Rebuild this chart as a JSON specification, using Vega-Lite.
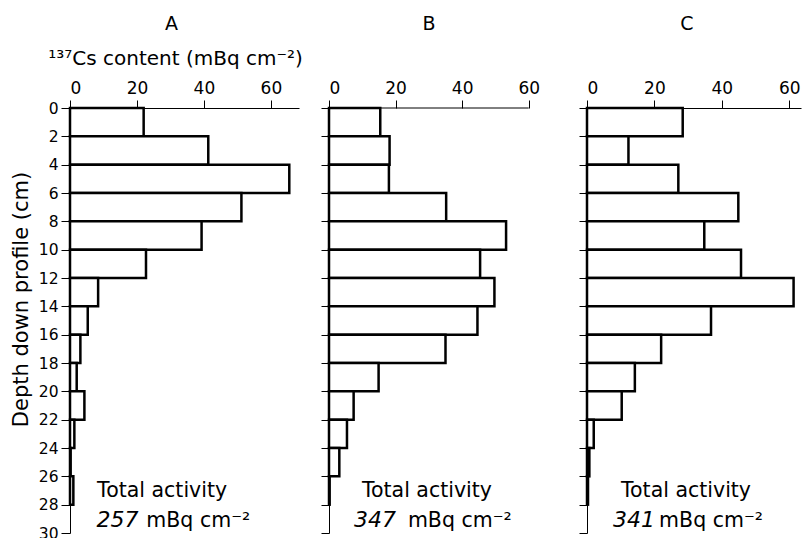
{
  "$schema": "https://vega.github.io/schema/vega-lite/v6.json",
  "background": "white",
  "padding": {"left": 10, "top": 15, "right": 1, "bottom": 0},
  "bounds": "flush",
  "spacing": 30,
  "config": {"font": "DejaVu Sans", "view": {"stroke": null}, "axis": {"labelOverlap": false}},
  "datasets": {
    "profiles": [
      {"panel": "A", "top": 0, "bottom": 2, "content": 22.0},
      {"panel": "A", "top": 2, "bottom": 4, "content": 41.3},
      {"panel": "A", "top": 4, "bottom": 6, "content": 65.5},
      {"panel": "A", "top": 6, "bottom": 8, "content": 51.2},
      {"panel": "A", "top": 8, "bottom": 10, "content": 39.3},
      {"panel": "A", "top": 10, "bottom": 12, "content": 22.7},
      {"panel": "A", "top": 12, "bottom": 14, "content": 8.4},
      {"panel": "A", "top": 14, "bottom": 16, "content": 5.3},
      {"panel": "A", "top": 16, "bottom": 18, "content": 3.1},
      {"panel": "A", "top": 18, "bottom": 20, "content": 2.0},
      {"panel": "A", "top": 20, "bottom": 22, "content": 4.3},
      {"panel": "A", "top": 22, "bottom": 24, "content": 1.3},
      {"panel": "A", "top": 24, "bottom": 26, "content": 0.2},
      {"panel": "A", "top": 26, "bottom": 28, "content": 1.0},
      {"panel": "B", "top": 0, "bottom": 2, "content": 15.4},
      {"panel": "B", "top": 2, "bottom": 4, "content": 18.2},
      {"panel": "B", "top": 4, "bottom": 6, "content": 18.0},
      {"panel": "B", "top": 6, "bottom": 8, "content": 35.2},
      {"panel": "B", "top": 8, "bottom": 10, "content": 53.2},
      {"panel": "B", "top": 10, "bottom": 12, "content": 45.4},
      {"panel": "B", "top": 12, "bottom": 14, "content": 49.7},
      {"panel": "B", "top": 14, "bottom": 16, "content": 44.6},
      {"panel": "B", "top": 16, "bottom": 18, "content": 35.0},
      {"panel": "B", "top": 18, "bottom": 20, "content": 14.9},
      {"panel": "B", "top": 20, "bottom": 22, "content": 7.4},
      {"panel": "B", "top": 22, "bottom": 24, "content": 5.4},
      {"panel": "B", "top": 24, "bottom": 26, "content": 3.1},
      {"panel": "B", "top": 26, "bottom": 28, "content": 0.2},
      {"panel": "C", "top": 0, "bottom": 2, "content": 28.4},
      {"panel": "C", "top": 2, "bottom": 4, "content": 12.3},
      {"panel": "C", "top": 4, "bottom": 6, "content": 27.1},
      {"panel": "C", "top": 6, "bottom": 8, "content": 44.9},
      {"panel": "C", "top": 8, "bottom": 10, "content": 34.8},
      {"panel": "C", "top": 10, "bottom": 12, "content": 45.7},
      {"panel": "C", "top": 12, "bottom": 14, "content": 61.3},
      {"panel": "C", "top": 14, "bottom": 16, "content": 36.8},
      {"panel": "C", "top": 16, "bottom": 18, "content": 22.0},
      {"panel": "C", "top": 18, "bottom": 20, "content": 14.2},
      {"panel": "C", "top": 20, "bottom": 22, "content": 10.3},
      {"panel": "C", "top": 22, "bottom": 24, "content": 2.0},
      {"panel": "C", "top": 24, "bottom": 26, "content": 0.7},
      {"panel": "C", "top": 26, "bottom": 28, "content": 0.3}
    ],
    "totals": [
      {"panel": "A", "total": "257", "label": "Total activity", "unit": "mBq cm⁻²"},
      {"panel": "B", "total": "347", "label": "Total activity", "unit": "mBq cm⁻²"},
      {"panel": "C", "total": "341", "label": "Total activity", "unit": "mBq cm⁻²"}
    ]
  },
  "hconcat": [
    {
      "width": 229, "height": 425,
      "title": {"text": "A", "fontSize": 19, "fontWeight": "normal", "color": "black", "frame": "group", "offset": 14, "dx": -13},
      "layer": [
        {
          "data": {"name": "profiles"},
          "transform": [{"filter": "datum.panel === 'A'"}],
          "mark": {"type": "rect", "fill": "white", "stroke": "black", "strokeWidth": 2.5},
          "encoding": {
            "x": {"field": "content", "type": "quantitative",
              "scale": {"domain": [0, 68.4], "nice": false, "zero": true},
              "axis": {"orient": "top", "values": [0, 20, 40, 60], "tickCount": 10, "grid": false, "tickSize": 8, "labelPadding": 3, "labelFontSize": 17, "labelColor": "black", "tickColor": "black", "domainColor": "black", "title": "¹³⁷Cs content (mBq cm⁻²)", "titleFontSize": 20, "titleFontWeight": "normal", "titleColor": "black", "titlePadding": 11, "titleX": 105}},
            "x2": {"datum": 0},
            "y": {"field": "top", "type": "quantitative",
              "scale": {"domain": [0, 30], "reverse": true, "nice": false},
              "axis": {"values": [0, 2, 4, 6, 8, 10, 12, 14, 16, 18, 20, 22, 24, 26, 28, 30], "tickCount": 40, "labelOverlap": false, "grid": false, "tickSize": 9, "labelPadding": 3, "labelFontSize": 15.5, "labelColor": "black", "tickColor": "black", "domainColor": "black", "title": "Depth down profile (cm)", "titleFontSize": 21, "titleFontWeight": "normal", "titleColor": "black", "titlePadding": 7, "titleY": 191}},
            "y2": {"field": "bottom"}
          }
        },
        {
          "data": {"name": "totals"},
          "transform": [{"filter": "datum.panel === 'A'"}],
          "mark": {"type": "text", "align": "left", "baseline": "alphabetic", "fontSize": 20.5, "color": "black"},
          "encoding": {"text": {"field": "label"}, "x": {"datum": 8.1}, "y": {"datum": 27.45}}
        },
        {
          "data": {"name": "totals"},
          "transform": [{"filter": "datum.panel === 'A'"}],
          "mark": {"type": "text", "align": "left", "baseline": "alphabetic", "fontSize": 22, "fontStyle": "italic", "color": "black"},
          "encoding": {"text": {"field": "total"}, "x": {"datum": 7.9}, "y": {"datum": 29.57}}
        },
        {
          "data": {"name": "totals"},
          "transform": [{"filter": "datum.panel === 'A'"}],
          "mark": {"type": "text", "align": "left", "baseline": "alphabetic", "fontSize": 20.5, "color": "black"},
          "encoding": {"text": {"field": "unit"}, "x": {"datum": 22.8}, "y": {"datum": 29.57}}
        }
      ]
    },
    {
      "width": 228, "height": 425,
      "title": {"text": "B", "fontSize": 19, "fontWeight": "normal", "color": "black", "frame": "group", "offset": 45, "dx": -14},
      "layer": [
        {
          "data": {"name": "profiles"},
          "transform": [{"filter": "datum.panel === 'B'"}],
          "mark": {"type": "rect", "fill": "white", "stroke": "black", "strokeWidth": 2.5},
          "encoding": {
            "x": {"field": "content", "type": "quantitative",
              "scale": {"domain": [0, 68.5], "nice": false, "zero": true},
              "axis": {"orient": "top", "values": [0, 20, 40, 60], "tickCount": 10, "grid": false, "domain": false, "tickSize": 8, "labelPadding": 3, "labelFontSize": 17, "labelColor": "black", "tickColor": "black", "title": null}},
            "x2": {"datum": 0},
            "y": {"field": "top", "type": "quantitative",
              "scale": {"domain": [0, 30], "reverse": true, "nice": false},
              "axis": {"values": [0, 2, 4, 6, 8, 10, 12, 14, 16, 18, 20, 22, 24, 26, 28, 30], "tickCount": 40, "grid": false, "labels": false, "tickSize": 8, "tickColor": "black", "domainColor": "black", "title": null}},
            "y2": {"field": "bottom"}
          }
        },
        {
          "data": {"name": "totals"},
          "transform": [{"filter": "datum.panel === 'B'"}],
          "mark": {"type": "rule", "color": "black", "strokeWidth": 1},
          "encoding": {"x": {"datum": 0}, "x2": {"datum": 60}, "y": {"datum": 0}}
        },
        {
          "data": {"name": "totals"},
          "transform": [{"filter": "datum.panel === 'B'"}],
          "mark": {"type": "text", "align": "left", "baseline": "alphabetic", "fontSize": 20.5, "color": "black"},
          "encoding": {"text": {"field": "label"}, "x": {"datum": 9.9}, "y": {"datum": 27.45}}
        },
        {
          "data": {"name": "totals"},
          "transform": [{"filter": "datum.panel === 'B'"}],
          "mark": {"type": "text", "align": "left", "baseline": "alphabetic", "fontSize": 22, "fontStyle": "italic", "color": "black"},
          "encoding": {"text": {"field": "total"}, "x": {"datum": 7.5}, "y": {"datum": 29.57}}
        },
        {
          "data": {"name": "totals"},
          "transform": [{"filter": "datum.panel === 'B'"}],
          "mark": {"type": "text", "align": "left", "baseline": "alphabetic", "fontSize": 20.5, "color": "black"},
          "encoding": {"text": {"field": "unit"}, "x": {"datum": 23.7}, "y": {"datum": 29.57}}
        }
      ]
    },
    {
      "width": 214, "height": 425,
      "title": {"text": "C", "fontSize": 19, "fontWeight": "normal", "color": "black", "frame": "group", "offset": 45, "dx": -7},
      "layer": [
        {
          "data": {"name": "profiles"},
          "transform": [{"filter": "datum.panel === 'C'"}],
          "mark": {"type": "rect", "fill": "white", "stroke": "black", "strokeWidth": 2.5},
          "encoding": {
            "x": {"field": "content", "type": "quantitative",
              "scale": {"domain": [0, 63.5], "nice": false, "zero": true},
              "axis": {"orient": "top", "values": [0, 20, 40, 60], "tickCount": 10, "grid": false, "tickSize": 8, "labelPadding": 3, "labelFontSize": 17, "labelColor": "black", "tickColor": "black", "domainColor": "black", "title": null}},
            "x2": {"datum": 0},
            "y": {"field": "top", "type": "quantitative",
              "scale": {"domain": [0, 30], "reverse": true, "nice": false},
              "axis": {"values": [0, 2, 4, 6, 8, 10, 12, 14, 16, 18, 20, 22, 24, 26, 28, 30], "tickCount": 40, "grid": false, "labels": false, "tickSize": 8, "tickColor": "black", "domainColor": "black", "title": null}},
            "y2": {"field": "bottom"}
          }
        },
        {
          "data": {"name": "totals"},
          "transform": [{"filter": "datum.panel === 'C'"}],
          "mark": {"type": "text", "align": "left", "baseline": "alphabetic", "fontSize": 20.5, "color": "black"},
          "encoding": {"text": {"field": "label"}, "x": {"datum": 10.1}, "y": {"datum": 27.45}}
        },
        {
          "data": {"name": "totals"},
          "transform": [{"filter": "datum.panel === 'C'"}],
          "mark": {"type": "text", "align": "left", "baseline": "alphabetic", "fontSize": 22, "fontStyle": "italic", "color": "black"},
          "encoding": {"text": {"field": "total"}, "x": {"datum": 7.7}, "y": {"datum": 29.57}}
        },
        {
          "data": {"name": "totals"},
          "transform": [{"filter": "datum.panel === 'C'"}],
          "mark": {"type": "text", "align": "left", "baseline": "alphabetic", "fontSize": 20.5, "color": "black"},
          "encoding": {"text": {"field": "unit"}, "x": {"datum": 21.4}, "y": {"datum": 29.57}}
        }
      ]
    }
  ]
}
